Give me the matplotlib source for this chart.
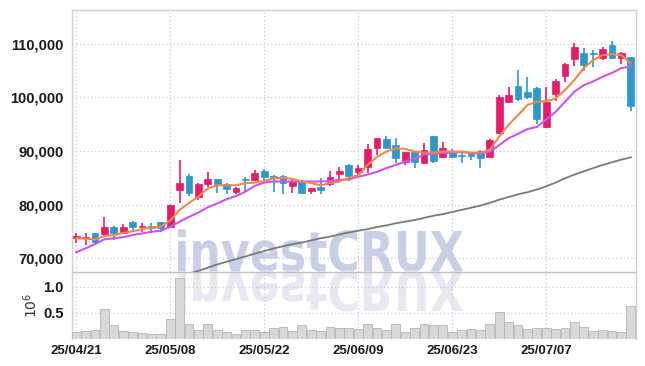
import numpy as np
import matplotlib
matplotlib.use('Agg')
import matplotlib.pyplot as plt
from matplotlib.textpath import TextPath
from matplotlib.patches import PathPatch
from matplotlib.font_manager import FontProperties
from matplotlib.transforms import Affine2D

# 일봉 데이터 (25/04/21 ~ 25/07/18)
opens = [73800, 73700, 74600, 74500, 75800, 74700, 76700, 75800, 76000, 76700,
         75800, 82700, 85300, 81400, 83800, 84800, 83800, 82300, 84700, 84600,
         86300, 85300, 85300, 83500, 84400, 82600, 83200, 83800, 85700, 87400,
         86100, 87000, 90600, 92200, 91100, 87900, 89800, 87700, 92800, 88900,
         89800, 89300, 89400, 90000, 88900, 93400, 99200, 102100, 101000, 101700,
         94500, 100700, 104100, 107200, 108400, 108300, 107300, 109800, 107300, 107500]
highs = [74700, 74600, 74700, 77700, 76000, 76400, 77000, 76600, 76600, 76800,
         79900, 88300, 85700, 84000, 86100, 84800, 84000, 83300, 85100, 86400,
         86700, 85500, 85500, 84800, 84600, 83100, 84900, 86200, 87000, 87600,
         87400, 91300, 92500, 92800, 92400, 89900, 89800, 91500, 92800, 91700,
         90300, 90000, 89900, 90100, 92200, 100400, 101900, 105100, 103900, 102000,
         101900, 103400, 106400, 110200, 109300, 108800, 109500, 110500, 108500, 107500]
lows = [72800, 72500, 72700, 74200, 73400, 74500, 74800, 74800, 75000, 74900,
        75600, 80300, 81500, 80800, 83300, 82200, 82000, 81900, 82400, 84400,
        84600, 82300, 81900, 82200, 82100, 82000, 81900, 83400, 84600, 84400,
        85100, 85800, 89300, 90500, 87700, 87400, 86900, 87500, 87700, 88700,
        88700, 87700, 88300, 86800, 88700, 93200, 99000, 99300, 99800, 95000,
        94300, 99400, 102900, 105800, 104900, 105700, 107000, 107100, 106200, 97400]
closes = [74200, 74000, 73000, 75800, 74700, 75800, 75800, 76000, 75700, 75600,
          79900, 84000, 82100, 83800, 84800, 83800, 82900, 83000, 84600, 85900,
          85200, 85000, 84000, 84400, 82200, 83000, 82800, 85100, 86300, 85300,
          86800, 90400, 92400, 90600, 88700, 89800, 87900, 90200, 88100, 90600,
          88900, 89100, 89000, 88600, 92000, 100100, 100500, 99700, 100100, 95900,
          99200, 103000, 106300, 109400, 106100, 108100, 109000, 107300, 108400, 98400]
# 거래량 (백만주)
volumes = [0.14, 0.16, 0.18, 0.58, 0.26, 0.16, 0.14, 0.12, 0.10, 0.10,
           0.39, 1.18, 0.28, 0.18, 0.28, 0.18, 0.14, 0.10, 0.18, 0.18,
           0.14, 0.21, 0.23, 0.16, 0.26, 0.18, 0.15, 0.23, 0.21, 0.21,
           0.19, 0.29, 0.21, 0.18, 0.29, 0.14, 0.21, 0.29, 0.26, 0.26,
           0.14, 0.18, 0.20, 0.18, 0.29, 0.51, 0.32, 0.26, 0.20, 0.22,
           0.22, 0.20, 0.22, 0.32, 0.24, 0.16, 0.18, 0.16, 0.14, 0.64]
# 이동평균선
ma_short = [73700, 73600, 73500, 74100, 74300, 74700, 75000, 75400, 75700, 75900,
            77000, 79000, 80300, 81500, 83000, 83600, 83600, 83600, 84000, 84100,
            84400, 84900, 85000, 84800, 84300, 84000, 83600, 84000, 84300, 85000,
            85500, 87400, 88900, 89900, 90500, 90400, 89900, 89700, 89700, 89900,
            89900, 89900, 89700, 89700, 90200, 92700, 94900, 96700, 98600, 99200,
            99300, 99800, 101400, 103300, 105500, 107000, 107900, 108100, 107900, 106400]
ma_mid = [71100, 71800, 72600, 73500, 73700, 73900, 74300, 74600, 74900, 75100,
          75800, 76800, 77700, 78500, 79500, 80200, 81000, 81600, 82400, 83500,
          84100, 84300, 84300, 84300, 84300, 84300, 84300, 84400, 84600, 84700,
          85200, 85600, 86100, 86800, 87400, 88000, 88600, 89300, 89500, 89600,
          89700, 89800, 89600, 89500, 89900, 91100, 92400, 93200, 94100, 94500,
          95900, 97300, 99200, 101100, 102300, 103000, 103900, 104600, 105500, 105800]
ma_long = [np.nan] * 12 + [
    67100, 67600, 68200, 68800, 69300, 69800, 70300, 70800,
    71300, 71800, 72200, 72600, 72900, 73300, 73700, 74000, 74400, 74800,
    75100, 75400, 75800, 76100, 76500, 76800, 77100, 77500, 77900, 78200,
    78600, 79000, 79400, 79800, 80300, 80900, 81400, 81900, 82300, 82800,
    83400, 84100, 84900, 85600, 86200, 86800, 87400, 87900, 88400, 88800]
tick_idx = [0, 10, 20, 30, 40, 50]
tick_labels = ['25/04/21', '25/05/08', '25/05/22', '25/06/09', '25/06/23', '25/07/07']
price_ticks = [70000, 80000, 90000, 100000, 110000]

UP = '#e31c6c'
DOWN = '#2f97c9'
GRID = '#c5c8e0'
LABEL_FONT = ['Liberation Sans', 'DejaVu Sans']

fig = plt.figure(figsize=(6.45, 3.66), dpi=100)
fig.patch.set_facecolor('white')
ax = fig.add_axes([72 / 645, 94 / 366, 564 / 645, 262 / 366])
axv = fig.add_axes([72 / 645, 27 / 366, 564 / 645, 67 / 366], sharex=ax)
for a in (ax, axv):
    a.set_facecolor('none')
    a.set_zorder(2)

# 워터마크 (반사 포함)
fp = FontProperties(family='DejaVu Sans', weight='bold')
tp = TextPath((0, 0), 'investCRUX', size=1, prop=fp)
ext = tp.get_extents()
cap = TextPath((0, 0), 'X', size=1, prop=fp).get_extents().height
sx = 285 / ext.width
sy = 40 / cap
x0 = 178
for flip, col in ((1, '#c9cfe5'), (-1, '#e7e8f2')):
    tr = Affine2D().translate(-ext.x0, 0).scale(sx / 645, flip * sy / 366) \
        .translate(x0 / 645, 95 / 366) + fig.transFigure
    fig.patches.append(PathPatch(tp, transform=tr, facecolor=col, edgecolor='none', zorder=1))

x = np.arange(len(closes))
o = np.array(opens)
c = np.array(closes)
colors = [UP if cc >= oo else DOWN for oo, cc in zip(o, c)]
ax.vlines(x, lows, highs, colors=colors, linewidth=1.2, zorder=3)
ax.bar(x, np.maximum(np.abs(c - o), 150), bottom=np.minimum(o, c), width=0.72,
       color=colors, edgecolor=colors, linewidth=0.5, zorder=4)
ax.plot(x, ma_long, color='#7a7a7a', linewidth=1.3, zorder=5)
ax.plot(x, ma_mid, color='#cc55ee', linewidth=1.5, zorder=5)
ax.plot(x, ma_short, color='#f2874c', linewidth=1.5, zorder=5)

axv.bar(x, volumes, width=0.95, color='#d8d8d8', edgecolor='#b5b5b5', linewidth=0.6, zorder=3)

ax.set_xlim(-0.45, 59.55)
ax.set_ylim(67390, 116350)
axv.set_ylim(0, 1.288)

ax.set_yticks(price_ticks)
ax.set_yticklabels(['{:,}'.format(p) for p in price_ticks])
axv.set_yticks([0.5, 1.0])
axv.set_yticklabels(['0.5', '1.0'])
axv.set_xticks(tick_idx)
axv.set_xticklabels(tick_labels)
ax.tick_params(axis='x', labelbottom=False)

for a in (ax, axv):
    a.grid(True, color=GRID, linestyle=(0, (1, 2)), linewidth=0.9)
    a.set_axisbelow(True)
    a.tick_params(length=0, pad=6, labelsize=9.5, labelcolor='#1a1a1a')
    a.tick_params(axis='y', labelsize=10.5)
    for lab in a.get_xticklabels() + a.get_yticklabels():
        lab.set_family(LABEL_FONT)
        lab.set_fontweight('bold')
    for s in a.spines.values():
        s.set_color('#d0d0d0')
        s.set_linewidth(1.0)
ax.spines['bottom'].set_color('#c0c0c0')
axv.spines['top'].set_visible(False)
axv.spines['bottom'].set_visible(False)
axv.tick_params(axis='x', pad=4)

axv.set_ylabel(r'$10^6$', fontsize=10, color='#333333', labelpad=2)

fig.savefig('out.png', dpi=100)
